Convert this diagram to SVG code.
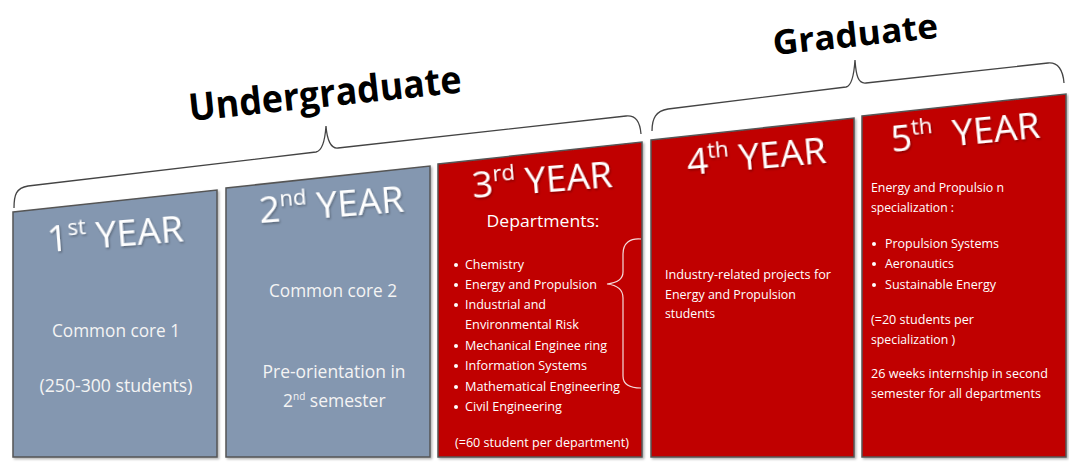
<svg xmlns="http://www.w3.org/2000/svg" width="1069" height="466" viewBox="0 0 1069 466">
<defs>
<filter id="sh" x="-10%" y="-10%" width="130%" height="140%">
<feDropShadow dx="1" dy="1.5" stdDeviation="1" flood-color="#000" flood-opacity="0.35"/>
</filter>
<filter id="bsh" x="-5%" y="-5%" width="110%" height="110%">
<feDropShadow dx="1.5" dy="1.5" stdDeviation="1" flood-color="#000" flood-opacity="0.3"/>
</filter>
</defs>
<style>
.gray{fill:#8497B0;stroke:#555;stroke-width:1.5}
.red{fill:#C00000;stroke:#555;stroke-width:1.5}
.brace{fill:none;stroke:#444;stroke-width:1.3}
.wbrace{fill:none;stroke:#f4dcdc;stroke-width:1.2}
.head{font-family:"Open Sans","Liberation Sans",sans-serif;font-weight:bold;font-size:38px;fill:#000}
.title{font-family:"Open Sans","Liberation Sans",sans-serif;font-size:37px;fill:#fff}
.big{font-family:"Open Sans","Liberation Sans",sans-serif;font-size:17.5px;fill:#f4f4f4}
.sm{font-family:"Open Sans","Liberation Sans",sans-serif;font-size:12.5px;fill:#fff}
.dep{font-family:"Open Sans","Liberation Sans",sans-serif;font-size:17px;fill:#fff}
.dot{fill:#fff}
</style>

<g id="connectors">
<path class="brace" d="M14,208 C14,195 16,188 28,186 L316,152 C322,151 325,140 326,126 C327,140 331,149 338,148 L626,116 C636,115 640,122 641,134"/>
<path class="brace" d="M652,131 C652,118 656,111 668,109 L846,87 C852,86 854,75 855,60 C856,75 858,84 866,83 L1048,63 C1058,62 1063,70 1064,83"/>
</g>

<g id="label-undergraduate">
<text class="head" x="190" y="121" transform="rotate(-6 190 121)" textLength="274" lengthAdjust="spacingAndGlyphs">Undergraduate</text>
</g>
<g id="label-graduate">
<text class="head" style="font-size:34px" x="774" y="55" transform="rotate(-6 774 55)" textLength="166" lengthAdjust="spacingAndGlyphs">Graduate</text>
</g>

<g id="year1">
<polygon class="gray" filter="url(#bsh)" points="13,212 217,190 217,457 13,457"/>
<text class="title" filter="url(#sh)" x="48" y="252" transform="rotate(-4.5 48 252)">1<tspan font-size="22" dy="-15">st</tspan><tspan dy="15"> YEAR</tspan></text>
<text class="big" x="116" y="337" text-anchor="middle" textLength="128" lengthAdjust="spacingAndGlyphs">Common core 1</text>
<text class="big" x="116" y="392" text-anchor="middle" textLength="153" lengthAdjust="spacingAndGlyphs">(250-300 students)</text>
</g>

<g id="year2">
<polygon class="gray" filter="url(#bsh)" points="226,188 430,166 430,457 226,457"/>
<text class="title" filter="url(#sh)" x="260" y="223" transform="rotate(-4.5 260 223)">2<tspan font-size="22" dy="-15">nd</tspan><tspan dy="15"> YEAR</tspan></text>
<text class="big" x="333" y="297" text-anchor="middle" textLength="128" lengthAdjust="spacingAndGlyphs">Common core 2</text>
<text class="big" x="334" y="378" text-anchor="middle" textLength="143" lengthAdjust="spacingAndGlyphs">Pre-orientation in</text>
<text class="big" x="283" y="407">2<tspan font-size="10" dy="-7">nd</tspan><tspan dy="7"> semester</tspan></text>
</g>

<g id="year3">
<polygon class="red" filter="url(#bsh)" points="438,164 642,142 642,457 438,457"/>
<text class="title" filter="url(#sh)" x="473" y="198" transform="rotate(-4.5 473 198)">3<tspan font-size="22" dy="-15">rd</tspan><tspan dy="15"> YEAR</tspan></text>
<text class="dep" x="543" y="227" text-anchor="middle" textLength="113" lengthAdjust="spacingAndGlyphs">Departments:</text>
<circle class="dot" cx="456" cy="265" r="2"/>
<circle class="dot" cx="456" cy="285" r="2"/>
<circle class="dot" cx="456" cy="305" r="2"/>
<circle class="dot" cx="456" cy="346" r="2"/>
<circle class="dot" cx="456" cy="366" r="2"/>
<circle class="dot" cx="456" cy="387" r="2"/>
<circle class="dot" cx="456" cy="407" r="2"/>
<text class="sm" x="465" y="269" textLength="59" lengthAdjust="spacingAndGlyphs">Chemistry</text>
<text class="sm" x="465" y="289" textLength="132" lengthAdjust="spacingAndGlyphs">Energy and Propulsion</text>
<text class="sm" x="465" y="309" textLength="81" lengthAdjust="spacingAndGlyphs">Industrial and</text>
<text class="sm" x="465" y="329" textLength="114" lengthAdjust="spacingAndGlyphs">Environmental Risk</text>
<text class="sm" x="465" y="350" textLength="142" lengthAdjust="spacingAndGlyphs">Mechanical Enginee ring</text>
<text class="sm" x="465" y="370" textLength="122" lengthAdjust="spacingAndGlyphs">Information Systems</text>
<text class="sm" x="465" y="391" textLength="155" lengthAdjust="spacingAndGlyphs">Mathematical Engineering</text>
<text class="sm" x="465" y="411" textLength="97" lengthAdjust="spacingAndGlyphs">Civil Engineering</text>
<text class="sm" x="455" y="447" textLength="174" lengthAdjust="spacingAndGlyphs">(=60 student per department)</text>
<path class="wbrace" d="M641,239 C630,238 623,243 623,254 L623,272 C623,280 616,283 607,284 C616,285 623,289 623,298 L623,376 C623,384 630,388 641,388"/>
</g>

<g id="year4">
<polygon class="red" filter="url(#bsh)" points="651,140 854,118 854,457 651,457"/>
<text class="title" filter="url(#sh)" x="688" y="175" transform="rotate(-5 688 175)">4<tspan font-size="22" dy="-15">th</tspan><tspan dy="15"> YEAR</tspan></text>
<text class="sm" x="665" y="279" textLength="166" lengthAdjust="spacingAndGlyphs">Industry-related projects for</text>
<text class="sm" x="665" y="299" textLength="131" lengthAdjust="spacingAndGlyphs">Energy and Propulsion</text>
<text class="sm" x="665" y="318" textLength="50" lengthAdjust="spacingAndGlyphs">students</text>
</g>

<g id="year5">
<polygon class="red" filter="url(#bsh)" points="862,116 1066,94 1066,457 862,457"/>
<text class="title" filter="url(#sh)" x="892" y="152" transform="rotate(-5.5 892 152)">5<tspan font-size="22" dy="-15">th</tspan><tspan dy="15" dx="10"> YEAR</tspan></text>
<text class="sm" x="871" y="192" textLength="133" lengthAdjust="spacingAndGlyphs">Energy and Propulsio n</text>
<text class="sm" x="871" y="212" textLength="83" lengthAdjust="spacingAndGlyphs">specialization :</text>
<circle class="dot" cx="874" cy="244" r="2"/>
<circle class="dot" cx="874" cy="264" r="2"/>
<circle class="dot" cx="874" cy="285" r="2"/>
<text class="sm" x="885" y="248" textLength="114" lengthAdjust="spacingAndGlyphs">Propulsion Systems</text>
<text class="sm" x="885" y="268" textLength="69" lengthAdjust="spacingAndGlyphs">Aeronautics</text>
<text class="sm" x="885" y="289" textLength="111" lengthAdjust="spacingAndGlyphs">Sustainable Energy</text>
<text class="sm" x="871" y="324" textLength="103" lengthAdjust="spacingAndGlyphs">(=20 students per</text>
<text class="sm" x="871" y="344" textLength="84" lengthAdjust="spacingAndGlyphs">specialization )</text>
<text class="sm" x="871" y="378" textLength="177" lengthAdjust="spacingAndGlyphs">26 weeks internship in second</text>
<text class="sm" x="871" y="398" textLength="170" lengthAdjust="spacingAndGlyphs">semester  for all departments</text>
</g>
</svg>
